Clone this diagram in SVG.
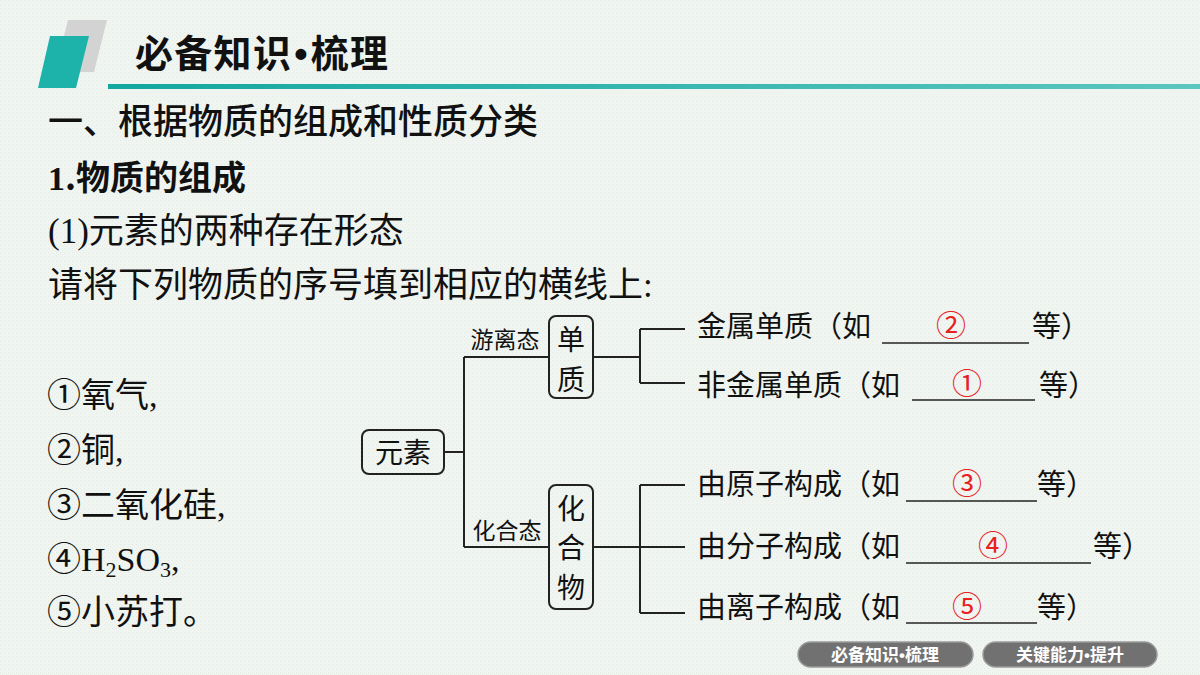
<svg xmlns="http://www.w3.org/2000/svg" width="1200" height="675" viewBox="0 0 1200 675">
<defs>
<linearGradient id="ul" x1="0" y1="0" x2="1" y2="0">
<stop offset="0" stop-color="#12a79f"/><stop offset="1" stop-color="#5cc6c0"/>
</linearGradient>
<pattern id="bg" width="4" height="4" patternUnits="userSpaceOnUse">
<rect width="4" height="4" fill="#f1f5f1"/><rect x="0" y="0" width="1" height="1" fill="#e2ebe3"/><rect x="2" y="2" width="1" height="1" fill="#e6eee7"/>
</pattern>
</defs>
<style>
.t{font-family:"Liberation Serif","Noto Sans CJK SC",serif;fill:#111}
.s{font-family:"Noto Sans CJK SC",sans-serif;fill:#111}
.dot{font-family:"Liberation Sans",sans-serif}
.box{fill:none;stroke:#222;stroke-width:2}
.ln{fill:none;stroke:#222;stroke-width:2}
.ans{font-family:"Noto Sans CJK SC",sans-serif;fill:#e8201e;font-size:30px;text-anchor:middle}
.u{stroke:#222;stroke-width:1.6}
.btn{fill:#717171;stroke:#9a9a9a;stroke-width:1.5}
.bt{font-family:"Noto Sans CJK SC",sans-serif;font-weight:bold;font-size:17px;fill:#fff;text-anchor:middle}
</style>
<rect width="1200" height="675" fill="url(#bg)"/>
<g id="header">
<polygon points="68,20 107,20 94,72 55,72" fill="#d3d3d3"/>
<polygon points="50,36 89,36 76,88 38,88" fill="#1db3aa"/>
<rect x="108" y="84" width="1092" height="5" fill="url(#ul)"/>
<text x="135" y="67" class="s" font-size="38" font-weight="bold" letter-spacing="1.3">必备知识<tspan class="dot" dx="2">•</tspan><tspan dx="2">梳理</tspan></text>
</g>
<g id="intro">
<text x="48" y="134" class="s" font-size="35" font-weight="500">一、根据物质的组成和性质分类</text>
<text x="48" y="190" class="s" font-size="34" font-weight="bold"><tspan font-family="Liberation Serif" font-weight="bold">1</tspan>.物质的组成</text>
<text x="48" y="243" class="t" font-size="35">(1)元素的两种存在形态</text>
<text x="48" y="297" class="t" font-size="35">请将下列物质的序号填到相应的横线上:</text>
</g>
<g id="list" class="t" font-size="34">
<text x="47" y="407">①氧气,</text>
<text x="47" y="462">②铜,</text>
<text x="47" y="517">③二氧化硅,</text>
<text x="47" y="571">④H<tspan font-size="22" dy="6">2</tspan><tspan dy="-6">SO</tspan><tspan font-size="22" dy="6">3</tspan><tspan dy="-6">,</tspan></text>
<text x="47" y="624">⑤小苏打。</text>
</g>
<g id="connectors">
<path class="ln" d="M444,452 H464 M464,357 V547 M464,357 H549 M464,547 H549"/>
<path class="ln" d="M593,357 H640 M640,329 V383 M640,329 H685 M640,383 H685"/>
<path class="ln" d="M593,547 H685 M640,485 V613 M640,485 H685 M640,613 H685"/>
</g>
<g id="node-yuansu">
<rect x="362" y="430" width="82" height="44" rx="7" class="box"/>
<text x="403" y="463" class="s" font-size="28" text-anchor="middle">元素</text>
</g>
<g id="label-youli"><text x="505" y="348" class="s" font-size="23" text-anchor="middle">游离态</text></g>
<g id="label-huahe"><text x="507" y="539" class="s" font-size="23" text-anchor="middle">化合态</text></g>
<g id="node-danzhi">
<rect x="549" y="316" width="44" height="82" rx="7" class="box"/>
<text x="571" y="350" class="s" font-size="28" text-anchor="middle">单</text>
<text x="571" y="390" class="s" font-size="28" text-anchor="middle">质</text>
</g>
<g id="node-huahewu">
<rect x="549" y="485" width="44" height="124" rx="7" class="box"/>
<text x="571" y="519" class="s" font-size="28" text-anchor="middle">化</text>
<text x="571" y="558" class="s" font-size="28" text-anchor="middle">合</text>
<text x="571" y="598" class="s" font-size="28" text-anchor="middle">物</text>
</g>
<g id="row1">
<text x="697" y="337" class="s" font-size="29">金属单质（如</text>
<line x1="882" y1="343" x2="1029" y2="343" class="u"/>
<text x="951" y="336" class="ans">②</text>
<text x="1032" y="337" class="s" font-size="29">等）</text>
</g>
<g id="row2">
<text x="697" y="396" class="s" font-size="29">非金属单质（如</text>
<line x1="912" y1="400" x2="1035" y2="400" class="u"/>
<text x="967" y="394" class="ans">①</text>
<text x="1039" y="396" class="s" font-size="29">等）</text>
</g>
<g id="row3">
<text x="697" y="495" class="s" font-size="29">由原子构成（如</text>
<line x1="906" y1="501" x2="1037" y2="501" class="u"/>
<text x="967" y="494" class="ans">③</text>
<text x="1037" y="495" class="s" font-size="29">等）</text>
</g>
<g id="row4">
<text x="697" y="557" class="s" font-size="29">由分子构成（如</text>
<line x1="906" y1="563" x2="1091" y2="563" class="u"/>
<text x="993" y="556" class="ans">④</text>
<text x="1093" y="557" class="s" font-size="29">等）</text>
</g>
<g id="row5">
<text x="697" y="618" class="s" font-size="29">由离子构成（如</text>
<line x1="906" y1="623" x2="1037" y2="623" class="u"/>
<text x="967" y="617" class="ans">⑤</text>
<text x="1037" y="618" class="s" font-size="29">等）</text>
</g>
<g id="nav">
<rect x="798" y="642" width="175" height="25" rx="12.5" class="btn"/>
<text x="885" y="661" class="bt">必备知识<tspan class="dot">•</tspan>梳理</text>
<rect x="983" y="642" width="174" height="25" rx="12.5" class="btn"/>
<text x="1070" y="661" class="bt">关键能力<tspan class="dot">•</tspan>提升</text>
</g>
</svg>
